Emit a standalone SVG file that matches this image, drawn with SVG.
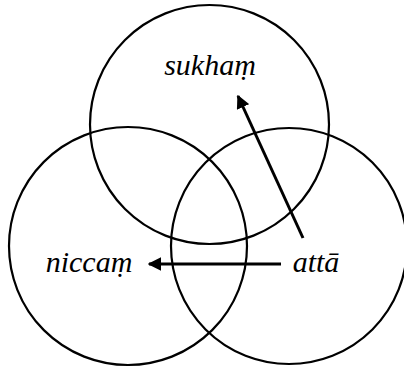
<svg xmlns="http://www.w3.org/2000/svg" width="404" height="367" viewBox="0 0 404 367">
<defs>
<marker id="ah" viewBox="0 0 10 10" refX="9" refY="5" markerWidth="4.5" markerHeight="4.5" orient="auto" markerUnits="strokeWidth">
<path d="M0,0 L10,5 L0,10 z" fill="#000"/>
</marker>
</defs>
<style>
.c{fill:none;stroke:#000;stroke-width:2.2}
.t{font-family:"Liberation Serif","Times New Roman",serif;font-style:italic;font-size:30px;fill:#000}
.a{stroke:#000;stroke-width:3;fill:none}
</style>
<rect width="404" height="367" fill="#fff"/>
<g id="sukham"><circle class="c" cx="209.5" cy="124.5" r="119.5"/><text class="t" x="210" y="75" text-anchor="middle">sukhaṃ</text></g>
<g id="niccam"><circle class="c" cx="128" cy="246" r="119"/><text class="t" x="89" y="272" text-anchor="middle">niccaṃ</text></g>
<g id="atta"><circle class="c" cx="289" cy="246" r="118"/><text class="t" x="316" y="272" text-anchor="middle">attā</text></g>
<g id="connectors">
<line class="a" x1="281" y1="264" x2="149" y2="264" marker-end="url(#ah)"/>
<line class="a" x1="303" y1="238" x2="238" y2="96" marker-end="url(#ah)"/>
</g>
</svg>
